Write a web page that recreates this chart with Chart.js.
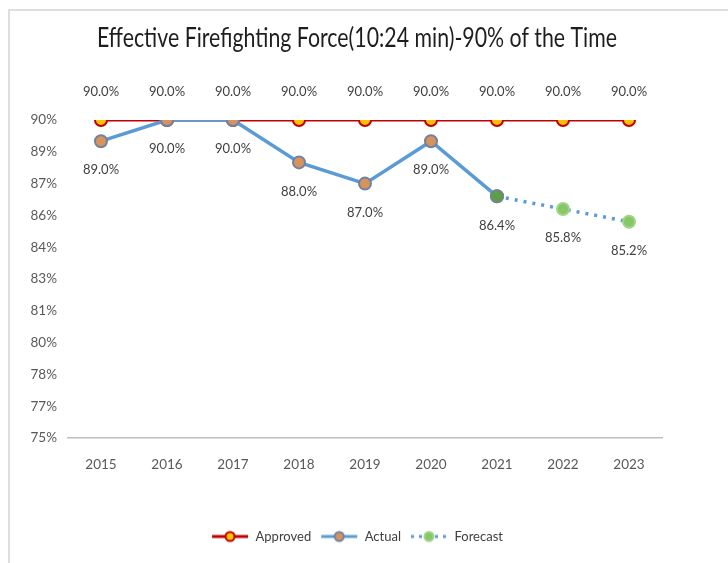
<!DOCTYPE html>
<html>
<head>
<meta charset="utf-8">
<script src="https://cdn.jsdelivr.net/npm/chart.js@4.4.1/dist/chart.umd.min.js"></script>
<style>
  html, body { margin: 0; padding: 0; background: #fff; }
  #wrap { position: relative; width: 728px; height: 563px; }
  #frame { position: absolute; left: 8px; top: 9px; right: 0; bottom: 0;
           border-left: 2px solid #dedede; border-top: 2px solid #dedede; pointer-events: none; }
</style>
</head>
<body>
<div id="wrap">
  <canvas id="chart" width="728" height="563"></canvas>
  <div id="frame"></div>
</div>
<script>
const FONT = "Lato, 'Open Sans', sans-serif";
const TITLE = 'Effective Firefighting Force(10:24 min)-90% of the Time';

// valeurs
const years = ['2015', '2016', '2017', '2018', '2019', '2020', '2021', '2022', '2023'];
const approved = [90, 90, 90, 90, 90, 90, 90, 90, 90];
const actual = [89.0, 90.0, 90.0, 88.0, 87.0, 89.0, 86.4, null, null];
const forecast = [null, null, null, null, null, null, 86.4, 85.8, 85.2];
const yMin = 75, yMax = 90, yStep = 1.5;

// petite image ligne + marqueur pour la légende
function legendIcon(lineColor, dash, fill, stroke) {
    const c = document.createElement('canvas');
    c.width = 38; c.height = 14;
    const g = c.getContext('2d');
    g.strokeStyle = lineColor;
    g.lineWidth = 3;
    g.setLineDash(dash);
    g.beginPath(); g.moveTo(1, 7); g.lineTo(37, 7); g.stroke();
    g.setLineDash([]);
    g.beginPath(); g.arc(19, 7, 4.5, 0, Math.PI * 2);
    g.fillStyle = fill; g.fill();
    g.lineWidth = 2; g.strokeStyle = stroke; g.stroke();
    return c;
}

// titre un peu condensé (police type Calibri)
const condensedTitle = {
    id: 'condensedTitle',
    afterDraw(chart) {
        const ctx = chart.ctx;
        ctx.save();
        ctx.font = '26px ' + FONT;
        ctx.fillStyle = '#1e1e1e';
        ctx.textAlign = 'center';
        ctx.textBaseline = 'middle';
        const w = ctx.measureText(TITLE).width;
        const sx = Math.min(1, 520 / w);
        ctx.translate(357, 39);
        ctx.scale(sx, 1);
        ctx.fillText(TITLE, 0, 0);
        ctx.restore();
    }
};

// étiquettes de valeurs
const valueLabels = {
    id: 'valueLabels',
    afterDatasetsDraw(chart) {
        const ctx = chart.ctx;
        ctx.save();
        ctx.font = '13px ' + FONT;
        ctx.fillStyle = '#404040';
        ctx.textAlign = 'center';
        ctx.textBaseline = 'middle';
        chart.data.datasets.forEach((ds, i) => {
            const meta = chart.getDatasetMeta(i);
            meta.data.forEach((pt, j) => {
                const v = ds.data[j];
                if (v == null) return;
                if (ds.label === 'Forecast' && actual[j] != null) return;
                const dy = ds.label === 'Approved' ? -28 : 29;
                ctx.fillText(v.toFixed(1) + '%', pt.x, pt.y + dy);
            });
        });
        ctx.restore();
    }
};

const ctx = document.getElementById('chart').getContext('2d');

const chart = new Chart(ctx, {
    type: 'line',
    data: {
        labels: years,
        datasets: [{
            label: 'Approved',
            data: approved,
            borderColor: '#C00000',
            borderWidth: 3,
            pointRadius: 6,
            pointBackgroundColor: '#FFC000',
            pointBorderColor: '#C00000',
            pointBorderWidth: 2,
            order: 2
        }, {
            label: 'Actual',
            data: actual,
            borderColor: '#5B9BD5',
            borderWidth: 3.5,
            pointRadius: 6,
            pointBackgroundColor: '#D8935C',
            pointBorderColor: '#6F82A0',
            pointBorderWidth: 2,
            order: 1
        }, {
            label: 'Forecast',
            data: forecast,
            borderColor: '#5B9BD5',
            borderWidth: 3.5,
            borderDash: [3, 6],
            pointRadius: 6,
            pointBackgroundColor: ['#5E9E45', '#5E9E45', '#5E9E45', '#5E9E45', '#5E9E45', '#5E9E45', '#5E9E45', '#88C766', '#88C766'],
            pointBorderColor: ['#6F8A80', '#6F8A80', '#6F8A80', '#6F8A80', '#6F8A80', '#6F8A80', '#6F8A80', '#A0D488', '#A0D488'],
            pointBorderWidth: 2,
            order: 0
        }]
    },
    options: {
        responsive: false,
        animation: false,
        layout: {
            padding: { left: 0, right: 14, top: 120, bottom: 10 }
        },
        scales: {
            x: {
                offset: true,
                grid: { display: false, drawTicks: false },
                border: { display: true, color: '#BFBFBF', width: 1.5 },
                ticks: {
                    color: '#595959',
                    font: { family: FONT, size: 13.5 },
                    padding: 19
                },
                afterFit(scale) { scale.height = 83; }
            },
            y: {
                min: yMin,
                max: yMax,
                grid: { display: false, drawTicks: false },
                border: { display: false },
                ticks: {
                    stepSize: yStep,
                    color: '#595959',
                    font: { family: FONT, size: 13.5 },
                    padding: 11,
                    callback: function(v) { return Math.round(v) + '%'; }
                },
                afterFit(scale) { scale.width = 68; }
            },
            // axe vide à droite pour garder le titre et la légende centrés
            y2: {
                position: 'right',
                min: yMin,
                max: yMax,
                grid: { display: false, drawTicks: false },
                border: { display: false },
                ticks: { display: false },
                afterFit(scale) { scale.width = 52; }
            }
        },
        plugins: {
            title: { display: false },
            legend: {
                position: 'bottom',
                labels: {
                    color: '#404040',
                    font: { family: FONT, size: 13 },
                    usePointStyle: true,
                    boxHeight: 14,
                    pointStyleWidth: 38,
                    padding: 9,
                    generateLabels(chart) {
                        const icons = [
                            legendIcon('#C00000', [], '#FFC000', '#C00000'),
                            legendIcon('#5B9BD5', [], '#D8935C', '#6F82A0'),
                            legendIcon('#5B9BD5', [3, 5], '#88C766', '#A0D488')
                        ];
                        return chart.data.datasets.map((ds, i) => ({
                            text: ds.label,
                            pointStyle: icons[i],
                            fontColor: '#404040',
                            datasetIndex: i,
                            lineWidth: 0
                        }));
                    }
                }
            },
            tooltip: { enabled: false }
        }
    },
    plugins: [valueLabels, condensedTitle]
});
</script>
</body>
</html>
